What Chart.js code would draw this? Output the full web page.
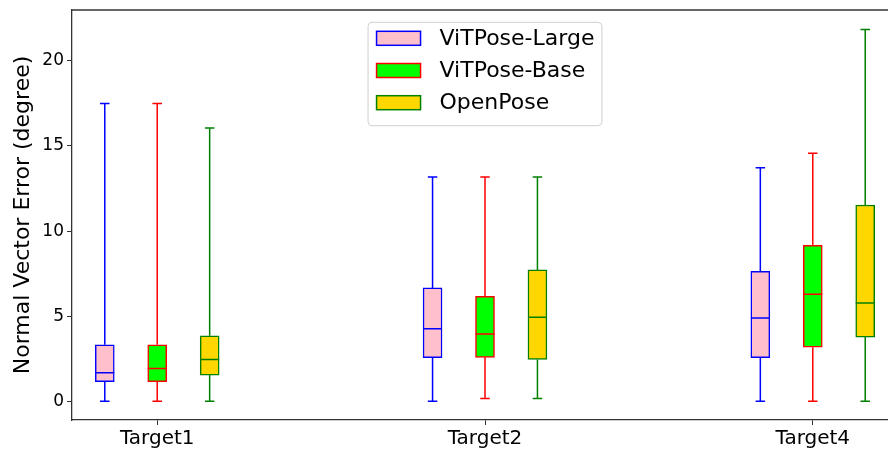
<!DOCTYPE html>
<html>
<head>
<meta charset="utf-8">
<script src="https://cdn.jsdelivr.net/npm/chart.js@4.4.1/dist/chart.umd.min.js"></script>
<style>
  html, body { margin: 0; padding: 0; overflow: hidden; background: #fff; }
</style>
</head>
<body>
<canvas id="boxChart" width="900" height="450"></canvas>
<script>
// categories and series
const targets = ['Target1', 'Target2', 'Target4'];
const methods = ['ViTPose-Large', 'ViTPose-Base', 'OpenPose'];

// five-number summary per target: [min, q1, median, q3, max]
const vitposeLarge = [[0, 1.15, 1.68, 3.32, 17.5], [0, 2.56, 4.26, 6.66, 13.18], [0, 2.56, 4.90, 7.64, 13.72]];
const vitposeBase = [[0, 1.15, 1.93, 3.32, 17.5], [0.17, 2.58, 3.95, 6.16, 13.18], [0, 3.18, 6.29, 9.17, 14.58]];
const openPose = [[0, 1.54, 2.46, 3.85, 16.05], [0.17, 2.46, 4.94, 7.72, 13.18], [0, 3.77, 5.78, 11.53, 21.84]];

const yTicks = [0, 5, 10, 15, 20];

const faceColors = ['pink', 'lime', 'gold'];
const edgeColors = ['blue', 'red', 'green'];
const groupOffsets = [-0.16, 0, 0.16];
const boxWidth = 19;
const FONT = "'DejaVu Sans', sans-serif";

document.addEventListener('DOMContentLoaded', function() {
    const summaries = [vitposeLarge, vitposeBase, openPose];

    const datasets = methods.map((name, k) => ({
        label: name,
        data: summaries[k].map((s, i) => ({ x: i + 1 + groupOffsets[k], y: [s[1], s[3]], stats: s })),
        backgroundColor: faceColors[k],
        borderColor: edgeColors[k],
        borderWidth: 1.5,
        borderSkipped: false,
        barThickness: boxWidth,
        grouped: false
    }));

    // whiskers, caps and medians
    const whiskerPlugin = {
        id: 'whiskers',
        afterDatasetsDraw(chart) {
            const { ctx, scales: { x, y } } = chart;
            chart.data.datasets.forEach(ds => {
                ds.data.forEach(d => {
                    const [lo, q1, med, q3, hi] = d.stats;
                    const cx = x.getPixelForValue(d.x);
                    const cap = boxWidth / 2;
                    ctx.save();
                    ctx.strokeStyle = ds.borderColor;
                    ctx.lineWidth = 1.5;
                    ctx.beginPath();
                    ctx.moveTo(cx, y.getPixelForValue(q3));
                    ctx.lineTo(cx, y.getPixelForValue(hi));
                    ctx.moveTo(cx, y.getPixelForValue(q1));
                    ctx.lineTo(cx, y.getPixelForValue(lo));
                    ctx.moveTo(cx - cap / 2, y.getPixelForValue(hi));
                    ctx.lineTo(cx + cap / 2, y.getPixelForValue(hi));
                    ctx.moveTo(cx - cap / 2, y.getPixelForValue(lo));
                    ctx.lineTo(cx + cap / 2, y.getPixelForValue(lo));
                    ctx.moveTo(cx - boxWidth / 2, y.getPixelForValue(med));
                    ctx.lineTo(cx + boxWidth / 2, y.getPixelForValue(med));
                    ctx.stroke();
                    ctx.restore();
                });
            });
        }
    };

    // top spine and the legend box inside the plot
    const framePlugin = {
        id: 'frameLegend',
        afterDraw(chart) {
            const { ctx, chartArea: a } = chart;
            ctx.save();
            ctx.strokeStyle = '#333';
            ctx.lineWidth = 1.3;
            ctx.beginPath();
            ctx.moveTo(a.left, a.top);
            ctx.lineTo(a.right, a.top);
            ctx.stroke();

            ctx.font = '22px ' + FONT;
            const textW = Math.max(...methods.map(m => ctx.measureText(m).width));
            const w = 8 + 44 + 19 + textW + 8;
            const h = 103.4;
            const left = (a.left + a.right) / 2 - w / 2;
            const top = a.top + 12.3;
            ctx.beginPath();
            ctx.roundRect(left, top, w, h, 4);
            ctx.fillStyle = 'rgba(255,255,255,0.8)';
            ctx.fill();
            ctx.strokeStyle = '#d0d0d0';
            ctx.lineWidth = 1;
            ctx.stroke();

            chart.data.datasets.forEach((ds, i) => {
                const cy = top + 16 + i * 32.2;
                ctx.fillStyle = ds.backgroundColor;
                ctx.fillRect(left + 8.5, cy - 7, 44, 14);
                ctx.strokeStyle = ds.borderColor;
                ctx.lineWidth = 1.5;
                ctx.strokeRect(left + 8.5, cy - 7, 44, 14);
                ctx.fillStyle = '#000';
                ctx.textBaseline = 'middle';
                ctx.fillText(ds.label, left + 71.5, cy + 1);
            });
            ctx.restore();
        }
    };

    new Chart(document.getElementById('boxChart'), {
        type: 'bar',
        data: { datasets: datasets },
        options: {
            responsive: false,
            animation: false,
            layout: { padding: { top: 10, right: 2, left: 0, bottom: 0 } },
            plugins: {
                legend: { display: false },
                tooltip: { enabled: false }
            },
            scales: {
                x: {
                    type: 'linear',
                    offset: false,
                    min: 0.74,
                    max: 3.26,
                    afterBuildTicks: s => { s.ticks = targets.map((t, i) => ({ value: i + 1 })); },
                    afterFit: s => { s.height = 30; s.paddingLeft = 0; s.paddingRight = 0; },
                    ticks: {
                        callback: (v, i) => targets[i],
                        font: { family: FONT, size: 20 },
                        color: '#000',
                        padding: 2,
                        maxRotation: 0,
                        autoSkip: false
                    },
                    grid: { offset: false, drawOnChartArea: false, drawTicks: true, tickLength: 5, color: '#333' },
                    border: { color: '#333', width: 1.3 }
                },
                y: {
                    min: -1.1,
                    max: 22.99,
                    afterBuildTicks: s => { s.ticks = yTicks.map(v => ({ value: v })); },
                    afterFit: s => { s.width = 72; s.paddingTop = 0; s.paddingBottom = 0; },
                    ticks: {
                        font: { family: FONT, size: 17 },
                        color: '#000',
                        padding: 3
                    },
                    grid: { drawOnChartArea: false, drawTicks: true, tickLength: 5, color: '#333' },
                    border: { color: '#333', width: 1.3 },
                    title: {
                        display: true,
                        text: 'Normal Vector Error (degree)',
                        font: { family: FONT, size: 22, lineHeight: 1.2 },
                        color: '#000',
                        padding: { top: 10, bottom: 0 }
                    }
                }
            }
        },
        plugins: [whiskerPlugin, framePlugin]
    });
});
</script>
</body>
</html>
